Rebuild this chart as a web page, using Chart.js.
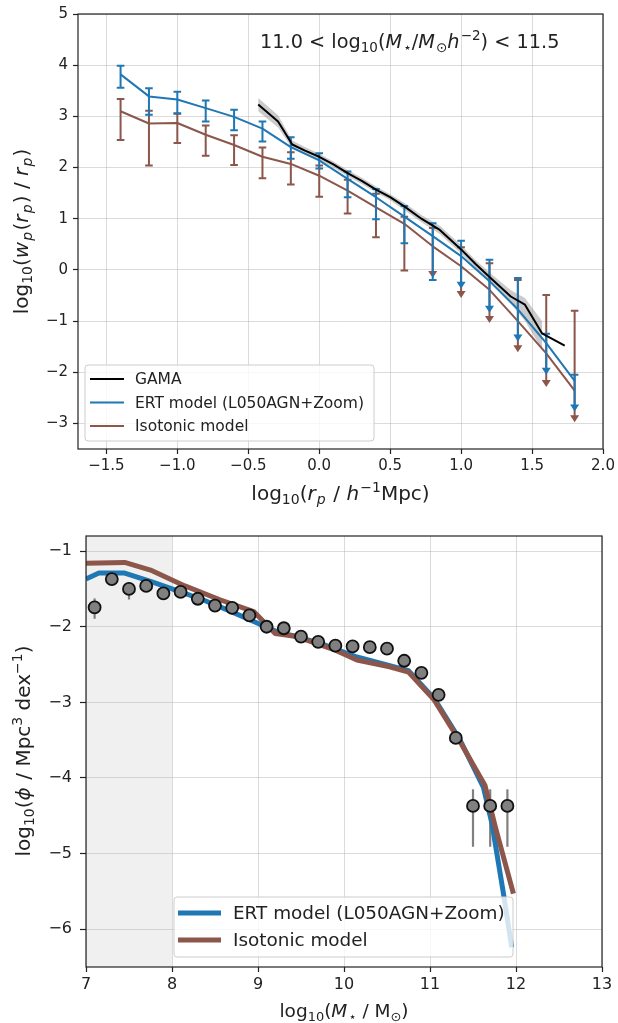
<!DOCTYPE html>
<html><head><meta charset="utf-8">
<script src="https://cdn.jsdelivr.net/npm/chart.js@4.4.1/dist/chart.umd.min.js"></script>
<style>
html,body{margin:0;padding:0;background:#fff;width:618px;height:1023px;overflow:hidden}
#c1{position:absolute;left:0;top:0}
#c2{position:absolute;left:0;top:515px}
</style></head><body>
<canvas id="c1" width="618" height="515"></canvas>
<canvas id="c2" width="618" height="508"></canvas>
<script>
// ---------- top panel: projected correlation function ----------
const rpX = [-1.4,-1.2,-1.0,-0.8,-0.6,-0.4,-0.2,0.0,0.2,0.4,0.6,0.8,1.0,1.2,1.4,1.6,1.8];
const ertWp = [3.82,3.39,3.33,3.16,2.99,2.76,2.40,2.14,1.78,1.42,1.04,0.66,0.27,-0.22,-0.77,-1.43,-2.17];
const ertHi = [3.99,3.55,3.48,3.31,3.13,2.90,2.59,2.28,1.92,1.58,1.25,0.91,0.57,0.20,-0.16,-1.25,-2.05];
const ertLo = [3.56,3.03,3.06,2.90,2.73,2.51,2.17,1.98,1.42,0.99,0.52,-0.20,-0.31,-0.78,-1.34,-1.99,-2.71];
const ertArrow = [0,0,0,0,0,0,0,0,0,0,0,0,1,1,1,1,1];
const isoWp = [3.10,2.86,2.87,2.64,2.44,2.21,2.07,1.84,1.55,1.22,0.90,0.46,0.07,-0.39,-1.00,-1.63,-2.36];
const isoHi = [3.34,3.11,3.05,2.82,2.63,2.39,2.30,2.04,1.76,1.49,1.04,0.82,0.44,0.13,-0.20,-0.49,-0.80];
const isoLo = [2.54,2.04,2.48,2.23,2.05,1.79,1.67,1.43,1.10,0.64,-0.01,-0.10,-0.49,-0.98,-1.55,-2.23,-2.92];
const isoArrow = [0,0,0,0,0,0,0,0,0,0,0,1,1,1,1,1,1];
const gamaX = [-0.43,-0.29,-0.19,-0.10,0.0,0.1,0.2,0.3,0.4,0.5,0.6,0.72,0.85,1.0,1.1,1.2,1.35,1.45,1.57,1.73];
const gamaWp = [3.23,2.90,2.45,2.33,2.21,2.06,1.89,1.74,1.57,1.42,1.24,1.00,0.78,0.40,0.12,-0.14,-0.52,-0.68,-1.24,-1.48];
const gamaHi = [3.36,3.02,2.53,2.40,2.27,2.12,1.95,1.80,1.63,1.48,1.31,1.07,0.86,0.48,0.20,-0.05,-0.40,-0.55,-1.00];
const gamaLo = [3.10,2.78,2.37,2.26,2.15,2.00,1.83,1.68,1.51,1.36,1.17,0.93,0.70,0.32,0.04,-0.23,-0.66,-1.00,-1.55];
const topXTicks = [-1.5,-1.0,-0.5,0.0,0.5,1.0,1.5,2.0];
const topYTicks = [-3,-2,-1,0,1,2,3,4,5];

// ---------- bottom panel: stellar mass function ----------
const obsMass = [7.1,7.3,7.5,7.7,7.9,8.1,8.3,8.5,8.7,8.9,9.1,9.3,9.5,9.7,9.9,10.1,10.3,10.5,10.7,10.9,11.1,11.3,11.5,11.7,11.9];
const obsPhi = [-1.745,-1.37,-1.50,-1.46,-1.56,-1.54,-1.63,-1.72,-1.75,-1.85,-2.00,-2.02,-2.13,-2.20,-2.25,-2.26,-2.27,-2.29,-2.45,-2.61,-2.90,-3.47,-4.37,-4.37,-4.37];
const obsErrUp = [0.12,0.03,0.09,0.05,0.03,0.03,0.03,0.03,0.03,0.03,0.03,0.03,0.03,0.03,0.03,0.03,0.03,0.03,0.03,0.03,0.03,0.05,0.22,0.22,0.22];
const obsErrDn = [0.15,0.03,0.14,0.08,0.03,0.03,0.03,0.03,0.03,0.03,0.03,0.03,0.03,0.03,0.03,0.03,0.03,0.03,0.03,0.03,0.03,0.05,0.54,0.54,0.54];
const ertMass = [7.0,7.15,7.45,7.75,8.05,8.35,8.65,8.95,9.25,9.45,9.75,10.15,10.75,11.05,11.35,11.62,11.72,11.86,11.95];
const ertPhi = [-1.37,-1.29,-1.29,-1.40,-1.52,-1.64,-1.78,-1.93,-2.08,-2.13,-2.23,-2.40,-2.58,-2.95,-3.50,-4.12,-4.60,-5.57,-6.24];
const isoMass = [7.0,7.45,7.75,8.15,8.55,8.95,9.2,9.45,9.9,10.15,10.53,10.75,11.05,11.35,11.64,11.76,11.97];
const isoPhi = [-1.16,-1.15,-1.25,-1.46,-1.64,-1.80,-2.09,-2.13,-2.31,-2.44,-2.53,-2.60,-2.97,-3.52,-4.10,-4.65,-5.53];
const botXTicks = [7,8,9,10,11,12,13];
const botYTicks = [-6,-5,-4,-3,-2,-1];
const shadeRange = [7,8];

const BLUE = '#1f77b4', BROWN = '#8c564b', INK = '#222';
const FONT = '"DejaVu Sans"';
const pts = (xs, ys) => xs.map((x, i) => ({x, y: ys[i]}));
const minus = s => String(s).replace('-', '\u2212');

function drawRich(ctx, parts, x, y, size, align, rot) {
  ctx.save(); ctx.translate(x, y); if (rot) ctx.rotate(rot);
  let w = 0;
  const segs = parts.map(p => {
    const t = p[0], f = p[1] || '';
    const small = f.includes('b') || f.includes('p');
    const fs = small ? size * 0.7 : size;
    const font = (f.includes('i') ? 'italic ' : '') + fs + 'px ' + FONT;
    ctx.font = font;
    const extra = f.includes('i') ? size * 0.06 : 0;
    const mw = ctx.measureText(t).width + extra;
    const dy = f.includes('b') ? size * 0.22 : (f.includes('p') ? -size * 0.42 : 0);
    w += mw;
    return {t, font, w: mw, dy};
  });
  let cx = align === 'center' ? -w / 2 : (align === 'right' ? -w : 0);
  ctx.textBaseline = 'alphabetic'; ctx.textAlign = 'left'; ctx.fillStyle = INK;
  for (const s of segs) { ctx.font = s.font; ctx.fillText(s.t, cx, s.dy); cx += s.w; }
  ctx.restore();
}

function drawLegend(ctx, box, items, fs, lw) {
  ctx.save();
  const [x0, y0, x1, y1] = box, r = 3;
  ctx.beginPath();
  ctx.moveTo(x0 + r, y0); ctx.lineTo(x1 - r, y0); ctx.quadraticCurveTo(x1, y0, x1, y0 + r);
  ctx.lineTo(x1, y1 - r); ctx.quadraticCurveTo(x1, y1, x1 - r, y1);
  ctx.lineTo(x0 + r, y1); ctx.quadraticCurveTo(x0, y1, x0, y1 - r);
  ctx.lineTo(x0, y0 + r); ctx.quadraticCurveTo(x0, y0, x0 + r, y0); ctx.closePath();
  ctx.fillStyle = 'rgba(255,255,255,0.8)'; ctx.fill();
  ctx.strokeStyle = '#cccccc'; ctx.lineWidth = 1; ctx.stroke();
  items.forEach(it => {
    ctx.beginPath(); ctx.strokeStyle = it.c; ctx.lineWidth = lw;
    ctx.moveTo(it.lx0, it.y); ctx.lineTo(it.lx1, it.y); ctx.stroke();
    ctx.fillStyle = INK; ctx.font = fs + 'px ' + FONT; ctx.textBaseline = 'middle';
    ctx.fillText(it.t, it.tx, it.y + 1);
  });
  ctx.restore();
}

const framePlugin = {id: 'frame', afterDatasetsDraw(chart) {
  const a = chart.chartArea, ctx = chart.ctx;
  ctx.save(); ctx.strokeStyle = INK; ctx.lineWidth = 1.2;
  ctx.strokeRect(a.left, a.top, a.right - a.left, a.bottom - a.top); ctx.restore();
}};

function axisCfg(min, max, ticks, fmt, fs, tl, pad) {
  return {
    type: 'linear', min, max,
    afterBuildTicks: s => { s.ticks = ticks.map(v => ({value: v})); },
    ticks: {callback: v => fmt(v), font: {family: 'DejaVu Sans', size: fs}, color: INK, padding: pad, maxRotation: 0, autoSkip: false},
    grid: {color: 'rgba(176,176,176,0.45)', lineWidth: 1, tickLength: tl, tickColor: INK, tickWidth: 1.2},
    border: {display: false}
  };
}

// ---------- TOP CHART ----------
const errPlugin = {id: 'errbars', afterDatasetDraw(chart, args) {
  const map = {1: {c: BLUE, hi: ertHi, lo: ertLo, ar: ertArrow}, 2: {c: BROWN, hi: isoHi, lo: isoLo, ar: isoArrow}};
  const e = map[args.index]; if (!e) return;
  const ctx = chart.ctx, xs = chart.scales.x, ys = chart.scales.y;
  ctx.save(); ctx.strokeStyle = e.c; ctx.fillStyle = e.c; ctx.lineWidth = 2;
  rpX.forEach((x, i) => {
    const px = xs.getPixelForValue(x), pt = ys.getPixelForValue(e.hi[i]), pb = ys.getPixelForValue(e.lo[i]);
    ctx.beginPath(); ctx.moveTo(px, pt); ctx.lineTo(px, pb);
    ctx.moveTo(px - 3.8, pt); ctx.lineTo(px + 3.8, pt);
    if (!e.ar[i]) { ctx.moveTo(px - 3.8, pb); ctx.lineTo(px + 3.8, pb); }
    ctx.stroke();
    if (e.ar[i]) {
      ctx.beginPath(); ctx.moveTo(px - 4.5, pb - 4); ctx.lineTo(px + 4.5, pb - 4); ctx.lineTo(px, pb + 3); ctx.closePath(); ctx.fill();
    }
  });
  ctx.restore();
}};

const topText = {id: 'topText', afterDraw(chart) {
  const ctx = chart.ctx;
  drawLegend(ctx, [85, 365, 374, 441], [
    {t: 'GAMA', c: '#000', y: 379, lx0: 90, lx1: 124, tx: 135},
    {t: 'ERT model (L050AGN+Zoom)', c: BLUE, y: 402.5, lx0: 90, lx1: 124, tx: 135},
    {t: 'Isotonic model', c: BROWN, y: 426, lx0: 90, lx1: 124, tx: 135}
  ], 15.5, 2);
  drawRich(ctx, [['log'], ['10', 'b'], ['('], ['r', 'i'], ['p', 'ib'], [' / '], ['h', 'i'], ['\u22121', 'p'], ['Mpc)']], 340.5, 500, 20, 'center');
  drawRich(ctx, [['log'], ['10', 'b'], ['('], ['w', 'i'], ['p', 'ib'], ['('], ['r', 'i'], ['p', 'ib'], [') / '], ['r', 'i'], ['p', 'ib'], [')']], 28, 231.5, 20, 'center', -Math.PI / 2);
  drawRich(ctx, [['11.0 < log'], ['10', 'b'], ['('], ['M', 'i'], ['\u22c6', 'b'], ['/'], ['M', 'i'], ['\u2299', 'b'], ['h', 'i'], ['\u22122', 'p'], [') < 11.5']], 260, 48, 19.3, 'left');
}};

new Chart(document.getElementById('c1'), {
  type: 'line',
  data: {datasets: [
    {label: 'GAMA', data: pts(gamaX, gamaWp), borderColor: '#000', borderWidth: 2, pointRadius: 0, order: 0, fill: false, borderJoinStyle: 'round'},
    {label: 'ERT model (L050AGN+Zoom)', data: pts(rpX, ertWp), borderColor: BLUE, borderWidth: 2, pointRadius: 0, order: 1, fill: false, borderJoinStyle: 'round'},
    {label: 'Isotonic model', data: pts(rpX, isoWp), borderColor: BROWN, borderWidth: 2, pointRadius: 0, order: 2, fill: false, borderJoinStyle: 'round'},
    {label: 'bandHi', data: pts(gamaX.slice(0, gamaHi.length), gamaHi), borderColor: 'rgba(0,0,0,0)', borderWidth: 0, pointRadius: 0, order: 3, fill: false},
    {label: 'bandLo', data: pts(gamaX.slice(0, gamaLo.length), gamaLo), borderColor: 'rgba(0,0,0,0)', borderWidth: 0, pointRadius: 0, order: 3, fill: '-1', backgroundColor: 'rgba(140,140,140,0.45)'}
  ]},
  options: {
    responsive: false, animation: false, devicePixelRatio: 1,
    layout: {padding: {top: 14, right: 15, left: 0, bottom: 0}},
    plugins: {legend: {display: false}, tooltip: {enabled: false}},
    scales: {
      x: Object.assign(axisCfg(-1.7, 2.0, topXTicks, v => minus(v.toFixed(1)), 15, 5, 3), {afterFit: s => { s.height = 66; }}),
      y: Object.assign(axisCfg(-3.5, 5, topYTicks, v => minus(v), 15, 5, 5), {afterFit: s => { s.width = 78; }})
    }
  },
  plugins: [errPlugin, framePlugin, topText]
});

// ---------- BOTTOM CHART ----------
const shadePlugin = {id: 'shade', beforeDraw(chart) {
  const a = chart.chartArea, xs = chart.scales.x, ctx = chart.ctx;
  ctx.save(); ctx.fillStyle = '#f0f0f0';
  const l = xs.getPixelForValue(shadeRange[0]), r = xs.getPixelForValue(shadeRange[1]);
  ctx.fillRect(l, a.top, r - l, a.bottom - a.top); ctx.restore();
}};
const obsErrPlugin = {id: 'obsErr', beforeDatasetsDraw(chart) {
  const xs = chart.scales.x, ys = chart.scales.y, ctx = chart.ctx;
  ctx.save(); ctx.strokeStyle = '#808080'; ctx.lineWidth = 2.2;
  obsMass.forEach((m, i) => {
    const px = xs.getPixelForValue(m);
    ctx.beginPath();
    ctx.moveTo(px, ys.getPixelForValue(obsPhi[i] + obsErrUp[i]));
    ctx.lineTo(px, ys.getPixelForValue(obsPhi[i] - obsErrDn[i]));
    ctx.stroke();
  });
  ctx.restore();
}};
const botText = {id: 'botText', afterDraw(chart) {
  const ctx = chart.ctx;
  drawLegend(ctx, [174, 382, 513, 442], [
    {t: 'ERT model (L050AGN+Zoom)', c: BLUE, y: 398, lx0: 178, lx1: 221, tx: 233},
    {t: 'Isotonic model', c: BROWN, y: 425, lx0: 178, lx1: 221, tx: 233}
  ], 18.4, 5);
  drawRich(ctx, [['log'], ['10', 'b'], ['('], ['M', 'i'], ['\u22c6', 'b'], [' / M'], ['\u2299', 'b'], [')']], 344, 502, 18.5, 'center');
  drawRich(ctx, [['log'], ['10', 'b'], ['('], ['\u03d5', 'i'], [' / Mpc'], ['3', 'p'], [' dex'], ['\u22121', 'p'], [')']], 30, 236, 20, 'center', -Math.PI / 2);
}};

new Chart(document.getElementById('c2'), {
  type: 'line',
  data: {datasets: [
    {label: 'obs', data: pts(obsMass, obsPhi), showLine: false, pointRadius: 6, pointBackgroundColor: '#808080', pointBorderColor: '#111', pointBorderWidth: 1.8, order: 0},
    {label: 'Isotonic model', data: pts(isoMass, isoPhi), borderColor: BROWN, borderWidth: 5, pointRadius: 0, order: 1, fill: false, borderJoinStyle: 'round'},
    {label: 'ERT model (L050AGN+Zoom)', data: pts(ertMass, ertPhi), borderColor: BLUE, borderWidth: 5, pointRadius: 0, order: 2, fill: false, borderJoinStyle: 'round'}
  ]},
  options: {
    responsive: false, animation: false, devicePixelRatio: 1,
    layout: {padding: {top: 21, right: 16, left: 0, bottom: 0}},
    plugins: {legend: {display: false}, tooltip: {enabled: false}},
    scales: {
      x: Object.assign(axisCfg(7, 13, botXTicks, v => minus(v), 16, 5, 3), {afterFit: s => { s.height = 56; }}),
      y: Object.assign(axisCfg(-6.5, -0.8, botYTicks, v => minus(v), 16, 6, 8), {afterFit: s => { s.width = 86; }})
    }
  },
  plugins: [shadePlugin, obsErrPlugin, framePlugin, botText]
});
</script>
</body></html>
